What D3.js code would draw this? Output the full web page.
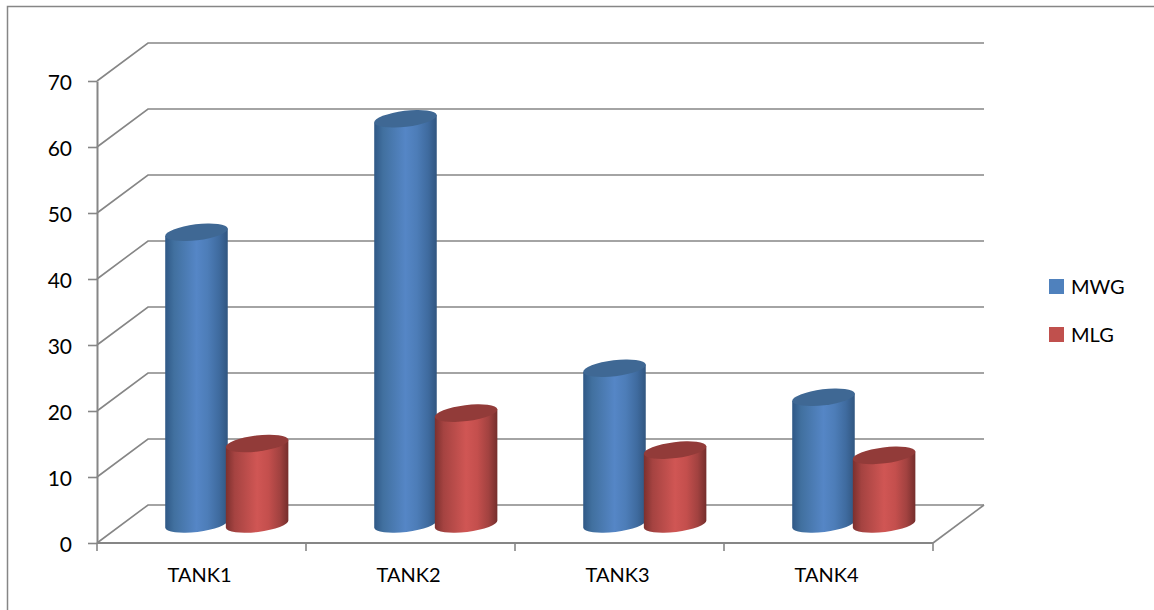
<!DOCTYPE html>
<html>
<head>
<meta charset="utf-8">
<script src="https://cdnjs.cloudflare.com/ajax/libs/d3/7.8.5/d3.min.js"></script>
<style>
html,body{margin:0;padding:0;background:#fff}
svg{display:block}
text{font-family:Lato,"Open Sans",sans-serif;fill:#000}
</style>
</head>
<body>
<svg id="chart" width="1154" height="610"></svg>
<script>
const categories = ["TANK1", "TANK2", "TANK3", "TANK4"];
const seriesNames = ["MWG", "MLG"];
const mwgValues = [44.2, 61.4, 23.6, 19.2];
const mlgValues = [12.2, 16.8, 11.2, 10.4];
const yTicks = [0, 10, 20, 30, 40, 50, 60, 70];

const width = 1154, height = 610;
const front = {left: 97, right: 933, bottom: 543, top: 81};
const depth = {dx: 51, dy: -38};
const gridColor = "#868686";
const palette = {
  MWG: {swatch: "#4f81bd", top: "#3f6894", stops: ["#2f5886", "#41709f", "#5586c6", "#4d7db8", "#3f6b9f", "#315680"]},
  MLG: {swatch: "#c0504d", top: "#923b39", stops: ["#7c302e", "#a54341", "#d05654", "#c44f4d", "#a24240", "#752e2c"]}
};

const svg = d3.select("#chart");
const x = d3.scaleBand().domain(categories).range([front.left, front.right]);
const y = d3.scaleLinear().domain([0, 70]).range([front.bottom, front.top]);
const seriesX = d3.scalePoint().domain(seriesNames).range([x.bandwidth() * 0.354, x.bandwidth() * 0.644]);

// Horizontal shading that gives the cylinders their roundness
const defs = svg.append("defs");
seriesNames.forEach(name => {
  const grad = defs.append("linearGradient").attr("id", "body-" + name);
  [0, 0.14, 0.5, 0.68, 0.86, 1].forEach((offset, i) => {
    grad.append("stop").attr("offset", offset).attr("stop-color", palette[name].stops[i]);
  });
});

// Outer frame: only the top and left edges fall inside the canvas
svg.append("path").attr("d", `M7.5,${height} V6.5 H${width}`)
  .attr("fill", "none").attr("stroke", gridColor).attr("stroke-width", 1.5);

// Floor and back wall gridlines
const grid = svg.append("g").attr("fill", "none").attr("stroke", gridColor);
grid.selectAll("path.wall").data(yTicks).join("path")
  .attr("class", "wall")
  .attr("stroke-width", 1.6)
  .attr("d", d => `M${front.left},${y(d)} l${depth.dx},${depth.dy} H${front.right + depth.dx}`);
grid.append("path").attr("stroke-width", 1.6)
  .attr("d", `M${front.right},${y(0)} l${depth.dx},${depth.dy}`);

// Value axis
const yAxis = svg.append("g").attr("transform", `translate(${front.left},0)`)
  .call(d3.axisLeft(y).tickValues(yTicks).tickSize(9).tickPadding(16).tickSizeOuter(0));
yAxis.selectAll("text").style("font-size", "21px").attr("dy", "0.42em");
yAxis.selectAll("line").attr("stroke", gridColor).attr("stroke-width", 1.6);
yAxis.select(".domain").attr("stroke", gridColor).attr("stroke-width", 2);

// Category axis: ticks sit on the band edges, labels at band centres
const xAxis = svg.append("g").attr("transform", `translate(0,${front.bottom})`)
  .call(d3.axisBottom(x).tickSize(0).tickPadding(25));
xAxis.selectAll("text").style("font-size", "20px").attr("dx", "-2");
xAxis.select(".domain").attr("stroke", gridColor).attr("stroke-width", 2)
  .attr("d", `M${front.left},0 H${front.right}`);
xAxis.selectAll("line.edge")
  .data(categories.map(c => x(c)).concat(front.right))
  .join("line").attr("class", "edge")
  .attr("x1", d => d).attr("x2", d => d).attr("y1", 0).attr("y2", 8)
  .attr("stroke", gridColor).attr("stroke-width", 1.6);

// Cylinders stand halfway into the chart's depth
const rx = 31.5, ry = 8, tilt = -7;
const tiltRad = tilt * Math.PI / 180;
const ex = rx * Math.cos(tiltRad), ey = rx * Math.sin(tiltRad);

function drawCylinder(g, name, cx, value) {
  const base = y(0) + depth.dy / 2;
  const top = y(value) + depth.dy / 2;
  const arc = `A${rx},${ry} ${tilt} 0 0`;
  g.append("path").attr("fill", `url(#body-${name})`)
    .attr("d", `M${cx - ex},${top - ey} L${cx - ex},${base - ey} ${arc} ${cx + ex},${base + ey} L${cx + ex},${top + ey} Z`);
  g.append("ellipse").attr("fill", palette[name].top)
    .attr("rx", rx).attr("ry", ry)
    .attr("transform", `translate(${cx},${top}) rotate(${tilt})`);
}

const seriesValues = {MWG: mwgValues, MLG: mlgValues};
categories.forEach((category, i) => {
  const g = svg.append("g");
  seriesNames.forEach(name => {
    const cx = x(category) + depth.dx / 2 + seriesX(name);
    drawCylinder(g, name, cx, seriesValues[name][i]);
  });
});

// Legend
const legend = svg.append("g").selectAll("g").data(seriesNames).join("g")
  .attr("transform", (d, i) => `translate(1049,${279 + i * 48})`);
legend.append("rect").attr("width", 15).attr("height", 15).attr("fill", d => palette[d].swatch);
legend.append("text").attr("x", 22).attr("y", 15).style("font-size", "20px").text(d => d);
</script>
</body>
</html>
